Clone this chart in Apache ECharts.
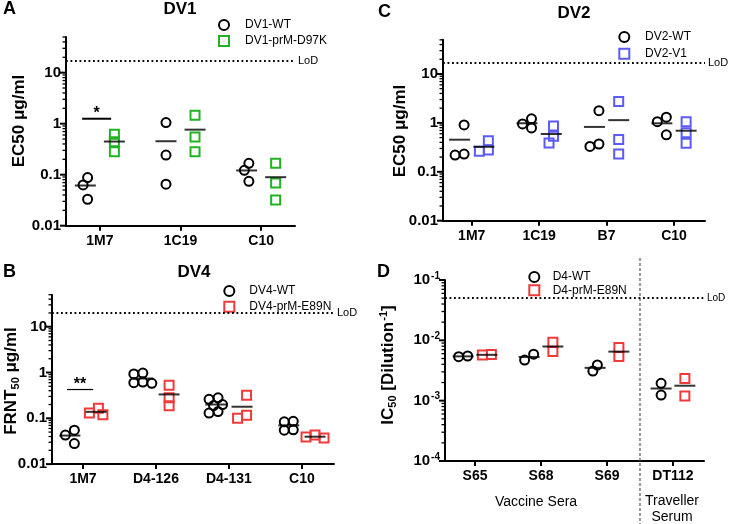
<!DOCTYPE html>
<html><head><meta charset="utf-8">
<script src="https://cdn.jsdelivr.net/npm/echarts@6/dist/echarts.min.js"></script>
<style>html,body{margin:0;padding:0;background:#fff}#c{width:750px;height:524px}</style>
</head><body><div id="c"></div>
<script>
// ---------------- data ----------------
// Panel A – DV1 (EC50 µg/ml)
const catsA = ['1M7', '1C19', 'C10'];
const wtA  = [[0.088, 0.063, 0.033], [1.05, 0.243, 0.065], [0.167, 0.122, 0.074]];
const mutA = [[0.62, 0.44, 0.28], [1.46, 0.55, 0.28], [0.167, 0.069, 0.032]];
const namesA = ['DV1-WT', 'DV1-prM-D97K'];
const lodA = 17;
const sigA = [{ group: 0, value: 1.25, text: '*' }];

// Panel B – DV4 (FRNT50 µg/ml)
const catsB = ['1M7', 'D4-126', 'D4-131', 'C10'];
const wtB  = [[0.055, 0.043, 0.028], [0.97, 0.93, 0.62, 0.6, 0.58], [0.28, 0.26, 0.2, 0.19, 0.14, 0.13], [0.086, 0.084, 0.056, 0.055]];
const mutB = [[0.165, 0.12, 0.13], [0.53, 0.28, 0.187], [0.32, 0.117, 0.1], [0.037, 0.043, 0.039]];
const namesB = ['DV4-WT', 'DV4-prM-E89N'];
const lodB = 20;
const sigB = [{ group: 0, value: 0.425, text: '**' }];

// Panel C – DV2 (EC50 µg/ml)
const catsC = ['1M7', '1C19', 'B7', 'C10'];
const wtC  = [[0.91, 0.22, 0.23], [1.21, 0.95, 0.79], [1.78, 0.33, 0.37], [1.31, 1.06, 0.57]];
const mutC = [[0.43, 0.263, 0.28], [0.86, 0.53, 0.39], [2.73, 0.456, 0.23], [1.06, 0.63, 0.385]];
const namesC = ['DV2-WT', 'DV2-V1'];
const lodC = 17;

// Panel D – IC50 [Dilution^-1]
const catsD = ['S65', 'S68', 'S69', 'DT112'];
const wtD  = [[0.00535, 0.0055], [0.0047, 0.0059], [0.0031, 0.0039], [0.00194, 0.00124]];
const mutD = [[0.0057, 0.0058], [0.0093, 0.0065], [0.0076, 0.0054], [0.00234, 0.0012]];
const namesD = ['D4-WT', 'D4-prM-E89N'];
const lodD = 0.05;
const vaccineCount = 3;

// ---------------- layout / style ----------------
const FONT = '"Liberation Sans", Arial, Helvetica, sans-serif';
const SUB_OFF = 0.18;
const decFmt = v => {
  const l = Math.round(Math.log10(v));
  if (Math.abs(Math.log10(v) - l) > 1e-6) return '';
  return l >= 0 ? String(Math.pow(10, l)) : '0.' + '0'.repeat(-l - 1) + '1';
};
const powFmt = v => {
  const l = Math.round(Math.log10(v));
  if (Math.abs(Math.log10(v) - l) > 1e-6) return '';
  return '10{sup|' + l + '}';
};

const panels = [
  { cats: catsA, wt: wtA, mut: mutA, names: namesA, colors: ['#000', '#21b321'], lod: lodA, sig: sigA, sigW: 2,
    grid: { left: 66, top: 37, width: 229, height: 188.7 }, x: [-0.42, 2.42], y: [0.01, 50], fmt: decFmt,
    legend: { left: 218, top: 19, pad: 11, gap: 4 }, lodFont: 11 },
  { cats: catsB, wt: wtB, mut: mutB, names: namesB, colors: ['#000', '#f03a3a'], lod: lodB, sig: sigB, sigW: 1.2,
    grid: { left: 52, top: 294.7, width: 282, height: 169.4 }, x: [-0.425, 3.44], y: [0.01, 50], fmt: decFmt,
    legend: { left: 223.3, top: 285, pad: 10, gap: 3.7 }, lodFont: 11 },
  { cats: catsC, wt: wtC, mut: mutC, names: namesC, colors: ['#000', '#5b5bf5'], lod: lodC, sig: [], sigW: 1,
    grid: { left: 443, top: 39.8, width: 262, height: 180.9 }, x: [-0.426, 3.46], y: [0.01, 50], fmt: decFmt,
    legend: { left: 618.3, top: 31, pad: 10.7, gap: 4.7 }, lodFont: 11 },
  { cats: catsD, wt: wtD, mut: mutD, names: namesD, colors: ['#000', '#f03a3a'], lod: lodD, sig: [], sigW: 1,
    grid: { left: 445, top: 280, width: 259, height: 181 }, x: [-0.455, 3.47], y: [0.0001, 0.1], fmt: powFmt,
    legend: { left: 528.3, top: 271, pad: 8.4, gap: 1.3 }, lodFont: 10 }
];

// beeswarm-like horizontal spread for overlapping points
function spread(values, pxX, pxY, center) {
  const order = values.map((v, i) => i).sort((a, b) => values[b] - values[a]);
  const placed = [], off = new Array(values.length);
  const step = 4.5, thr = 7.5;
  order.forEach(i => {
    const yy = Math.log10(values[i]) * pxY;
    for (let k = 0; k < 30; k++) {
      const c = k === 0 ? 0 : (k % 2 ? -1 : 1) * Math.ceil(k / 2) * step;
      if (placed.every(p => Math.hypot(p.x - c, p.y - yy) >= thr)) { off[i] = c; placed.push({ x: c, y: yy }); break; }
    }
  });
  const shift = (Math.min(...off) + Math.max(...off)) / 2;
  return values.map((v, i) => [center + (off[i] - shift) / pxX, v]);
}
const mean = a => a.reduce((s, v) => s + v, 0) / a.length;

const option = { animation: false, backgroundColor: '#fff', grid: [], xAxis: [], yAxis: [], series: [], legend: [], graphic: [] };

panels.forEach((P, i) => {
  option.grid.push(Object.assign({}, P.grid));
  const idx = P.cats.map((_, k) => k);
  option.xAxis.push({
    type: 'value', gridIndex: i, min: P.x[0], max: P.x[1], splitLine: { show: false },
    axisLine: { show: true, onZero: false, lineStyle: { color: '#000', width: 2 } },
    axisTick: { show: true, customValues: idx, length: 5, lineStyle: { color: '#000', width: 2 } },
    axisLabel: { show: true, customValues: idx, formatter: v => P.cats[Math.round(v)], margin: 8,
      color: '#000', fontWeight: 'bold', fontSize: 14, fontFamily: FONT }
  });
  option.yAxis.push({
    type: 'log', logBase: 10, gridIndex: i, min: P.y[0], max: P.y[1], splitLine: { show: false },
    axisLine: { show: true, onZero: false, lineStyle: { color: '#000', width: 2 } },
    axisTick: { show: false }, minorTick: { show: false },
    axisLabel: { formatter: P.fmt, margin: 5, color: '#000', fontWeight: 'bold', fontSize: 15, fontFamily: FONT,
      rich: { sup: { fontSize: 10, fontWeight: 'bold', fontFamily: FONT, color: '#000', padding: [0, 0, 8, 1] } } }
  });

  const pxX = P.grid.width / (P.x[1] - P.x[0]);
  const pxY = P.grid.height / (Math.log10(P.y[1]) - Math.log10(P.y[0]));
  const wtPts = [], mutPts = [], means = [];
  P.cats.forEach((c, g) => {
    wtPts.push(...spread(P.wt[g], pxX, pxY, g - SUB_OFF));
    mutPts.push(...spread(P.mut[g], pxX, pxY, g + SUB_OFF));
    means.push([g - SUB_OFF, mean(P.wt[g])], [g + SUB_OFF, mean(P.mut[g])]);
  });

  // minor / major y ticks
  const ticks = [];
  for (let e = Math.floor(Math.log10(P.y[0])); e <= Math.ceil(Math.log10(P.y[1])); e++) {
    for (let k = 1; k <= 9; k++) {
      const v = k * Math.pow(10, e);
      if (v >= P.y[0] * (1 - 1e-9) && v <= P.y[1] * (1 + 1e-9)) ticks.push([P.x[0], v, k === 1 ? 1 : 0]);
    }
  }
  option.series.push({
    type: 'custom', xAxisIndex: i, yAxisIndex: i, clip: false, silent: true, encode: { x: 0, y: 1 }, data: ticks, z: 1,
    renderItem: (params, api) => {
      const p = api.coord([api.value(0), api.value(1)]);
      const major = api.value(2) === 1;
      const len = major ? 6 : 3.5;
      return { type: 'line', shape: { x1: p[0] - len, y1: p[1], x2: p[0], y2: p[1] },
        style: { stroke: '#000', lineWidth: major ? 2 : 1.3 } };
    }
  });

  option.series.push({
    type: 'scatter', name: P.names[0], xAxisIndex: i, yAxisIndex: i, symbol: 'circle', symbolSize: 9, z: 4,
    emphasis: { disabled: true },
    itemStyle: { color: 'rgba(255,255,255,0)', borderColor: P.colors[0], borderWidth: 2, opacity: 1 },
    data: wtPts,
    markLine: { silent: true, symbol: ['none', 'none'], animation: false,
      lineStyle: { color: '#000', width: 1.8, type: [1.8, 2.7] },
      label: { show: true, position: 'end', formatter: 'LoD', distance: 3, fontSize: P.lodFont, color: '#000', fontFamily: FONT },
      emphasis: { disabled: true },
      data: [{ yAxis: P.lod }] }
  });
  option.series.push({
    type: 'scatter', name: P.names[1], xAxisIndex: i, yAxisIndex: i, symbol: 'rect', symbolSize: 9, z: 4,
    emphasis: { disabled: true },
    itemStyle: { color: 'rgba(255,255,255,0)', borderColor: P.colors[1], borderWidth: 2, opacity: 1 },
    data: mutPts
  });
  option.series.push({
    type: 'scatter', xAxisIndex: i, yAxisIndex: i, symbol: 'rect', symbolSize: [21, 2], z: 5, silent: true,
    itemStyle: { color: '#000' }, data: means
  });
  if (P.sig.length) {
    option.series.push({
      type: 'custom', xAxisIndex: i, yAxisIndex: i, clip: false, silent: true, encode: { x: 0, y: 1 }, z: 5,
      data: P.sig.map(s => [s.group, s.value]),
      renderItem: (params, api) => {
        const g = api.value(0), v = api.value(1);
        const p1 = api.coord([g - 0.22, v]), p2 = api.coord([g + 0.14, v]);
        return { type: 'group', children: [
          { type: 'line', shape: { x1: p1[0], y1: p1[1], x2: p2[0], y2: p2[1] }, style: { stroke: '#000', lineWidth: P.sigW } },
          { type: 'text', x: (p1[0] + p2[0]) / 2, y: p1[1] + 3,
            style: { text: P.sig[params.dataIndex].text, fill: '#000', fontSize: 16, fontWeight: 'bold', fontFamily: FONT,
              align: 'center', verticalAlign: 'bottom' } }
        ] };
      }
    });
  }
  option.legend.push({
    data: P.names, orient: 'vertical', left: P.legend.left, top: P.legend.top, padding: 0,
    itemWidth: 10, itemHeight: 10, itemGap: P.legend.gap, selectedMode: false,
    textStyle: { fontSize: 12, color: '#000', fontFamily: FONT, padding: [0, 0, 0, P.legend.pad] }
  });
});

// Panel D: separator between vaccine sera and traveller serum
option.series.push({
  type: 'custom', xAxisIndex: 3, yAxisIndex: 3, clip: false, silent: true, encode: { x: 0, y: 1 }, z: 2,
  data: [[vaccineCount - 0.5, 0.01]],
  renderItem: (params, api) => {
    const p = api.coord([api.value(0), api.value(1)]);
    return { type: 'line', shape: { x1: p[0], y1: 258, x2: p[0], y2: 524 },
      style: { stroke: '#555', lineWidth: 1.2, lineDash: [3, 2] } };
  }
});

const T = (text, x, y, size, weight, align, extra) => ({
  type: 'text', x, y, silent: true,
  style: Object.assign({ text, fill: '#000', fontSize: size, fontWeight: weight, fontFamily: FONT, align: align, verticalAlign: 'middle' }, extra || {})
});
const richSub = {
  b: { fontSize: 17, fontWeight: 'bold', fontFamily: FONT, color: '#000' },
  sub: { fontSize: 11, fontWeight: 'bold', fontFamily: FONT, color: '#000', padding: [9, 0, 0, 0] },
  sup: { fontSize: 11, fontWeight: 'bold', fontFamily: FONT, color: '#000', padding: [0, 0, 9, 1] }
};
option.graphic = [
  T('A', 3, 9.5, 18, 'bold', 'left'),
  T('DV1', 180, 9.5, 17, 'bold', 'center'),
  T('B', 3, 272.5, 18, 'bold', 'left'),
  T('DV4', 194, 272.5, 17, 'bold', 'center'),
  T('C', 378, 12.5, 18, 'bold', 'left'),
  T('DV2', 574, 13, 17, 'bold', 'center'),
  T('D', 377, 272.5, 18, 'bold', 'left'),
  Object.assign(T('EC50 μg/ml', 19, 121, 17, 'bold', 'center'), { rotation: Math.PI / 2 }),
  Object.assign(T('{b|FRNT}{sub|50}{b| μg/ml}', 11, 381, 17, 'bold', 'center', { rich: richSub }), { rotation: Math.PI / 2 }),
  Object.assign(T('EC50 μg/ml', 400, 131, 17, 'bold', 'center'), { rotation: Math.PI / 2 }),
  Object.assign(T('{b|IC}{sub|50}{b| [Dilution}{sup|-1}{b|]}', 388, 365, 17, 'bold', 'center', { rich: richSub }), { rotation: Math.PI / 2 }),
  T('Vaccine Sera', 536, 502, 14, 'normal', 'center'),
  T('Traveller', 672, 501, 14, 'normal', 'center'),
  T('Serum', 672, 517, 14, 'normal', 'center')
];

const chart = echarts.init(document.getElementById('c'), null, { renderer: 'canvas' });
chart.setOption(option);
</script>
</body></html>
